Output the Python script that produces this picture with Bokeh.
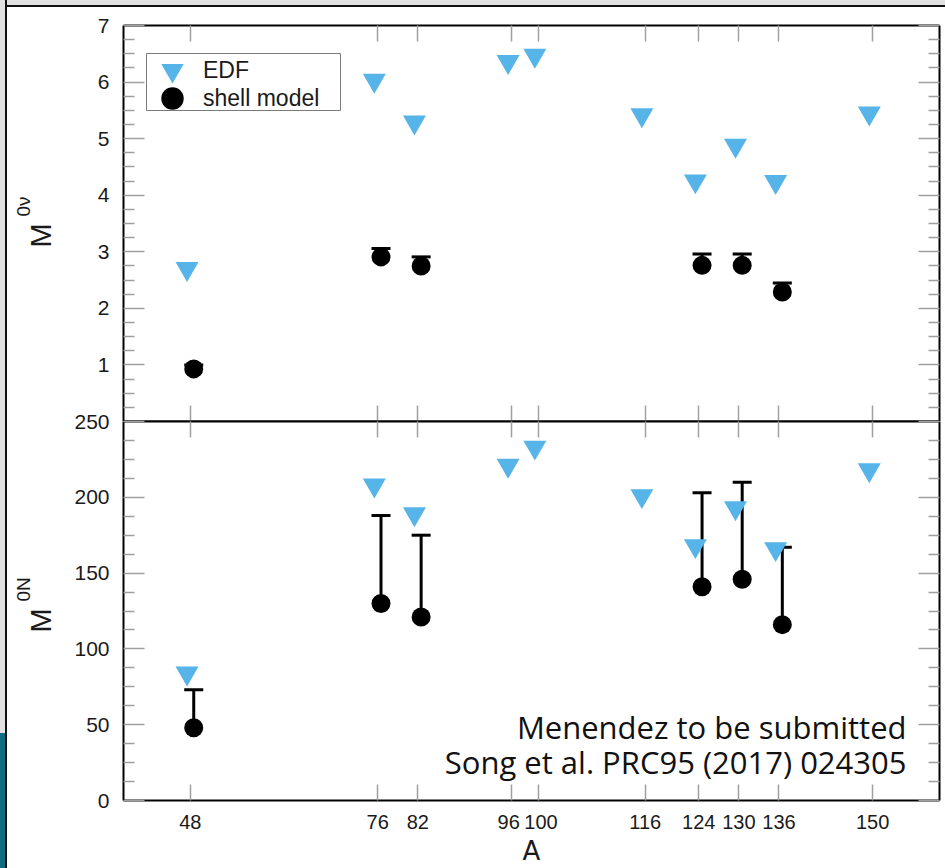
import math
from bokeh.plotting import figure
from bokeh.models import (LinearAxis, FixedTicker, ColumnDataSource, Whisker, TeeHead,
                          Legend, LegendItem, Label, BoxAnnotation, Range1d, Div)
from bokeh.layouts import column, row
from bokeh.transform import dodge
from bokeh.embed import file_html
from bokeh.resources import INLINE

# ---------------- data ----------------
A_edf = [48, 76, 82, 96, 100, 116, 124, 130, 136, 150]
edf_0nu = [2.70, 6.03, 5.29, 6.36, 6.47, 5.42, 4.25, 4.88, 4.24, 5.45]
edf_0N = [84, 208, 189, 221, 233, 201, 168, 193, 166, 218]

A_sm = [48, 76, 82, 124, 130, 136]
sm_0nu = [0.93, 2.91, 2.75, 2.76, 2.76, 2.29]
sm_0nu_up = [1.00, 3.06, 2.91, 2.96, 2.96, 2.45]
sm_0N = [48, 130, 121, 141, 146, 116]
sm_0N_up = [73, 188, 175, 203, 210, 167]

A_ticks = [48, 76, 82, 96, 100, 116, 124, 130, 136, 150]
A_tick_labels = {96: "96\u00a0", 100: "\u00a0100"}
A_range = (38, 160)
ticks_0nu = [1, 2, 3, 4, 5, 6, 7]
range_0nu = (0, 7)
ticks_0N = [0, 50, 100, 150, 200, 250]
range_0N = (0, 250)

legend_labels = ["EDF", "shell model"]
x_title = "A"
y_titles = [("M", "0ν"), ("M", "0N")]
cite_lines = ["Menendez to be submitted", "Song et al. PRC95 (2017) 024305"]

# ---------------- styles ----------------
BLUE = "#56B4E9"
GRAY = "#a0a0a0"
FONT = "Liberation Sans"
TXT = "#1a1a1a"

src_edf = ColumnDataSource(dict(A=A_edf, nu=edf_0nu, N=edf_0N))
src_sm = ColumnDataSource(dict(A=A_sm, nu=sm_0nu, nu_up=sm_0nu_up, N=sm_0N, N_up=sm_0N_up))


def make_fig(height, yr, top_border, bottom_border):
    p = figure(width=878, height=height, x_range=Range1d(*A_range), y_range=Range1d(*yr),
               x_axis_location=None, y_axis_location=None, toolbar_location=None,
               output_backend="svg", min_border_left=56, min_border_right=6,
               min_border_top=top_border, min_border_bottom=bottom_border)
    p.grid.visible = False
    p.outline_line_color = None
    p.border_fill_color = None
    p.background_fill_color = "white"
    return p


def add_axes(p, yticks, yminor, xlabels):
    left = LinearAxis(ticker=FixedTicker(ticks=yticks, minor_ticks=yminor))
    right = LinearAxis(ticker=FixedTicker(ticks=yticks, minor_ticks=yminor))
    top = LinearAxis(ticker=FixedTicker(ticks=A_ticks))
    bottom = LinearAxis(ticker=FixedTicker(ticks=A_ticks))
    for ax in (left, right, top, bottom):
        ax.axis_line_color = "black"
        ax.axis_line_width = 2
        ax.major_tick_line_color = GRAY
        ax.major_tick_line_width = 1.5
        ax.minor_tick_line_color = GRAY
        ax.minor_tick_line_width = 1.5
        ax.major_tick_out = 0
        ax.minor_tick_out = 0
        ax.major_label_text_color = None
    for ax in (left, right):
        ax.major_tick_in = 21
        ax.minor_tick_in = 11
    for ax in (top, bottom):
        ax.major_tick_in = 16
        ax.minor_tick_line_color = None
    left.major_label_text_color = TXT
    left.major_label_text_font = FONT
    left.major_label_text_font_size = "21px"
    left.major_label_standoff = 14
    if xlabels:
        bottom.major_label_text_color = TXT
        bottom.major_label_text_font = FONT
        bottom.major_label_text_font_size = "20px"
        bottom.major_label_standoff = 10
        bottom.major_label_overrides = A_tick_labels
        bottom.axis_label = x_title
        bottom.axis_label_text_font = "DejaVu Sans"
        bottom.axis_label_text_font_style = "normal"
        bottom.axis_label_text_font_size = "26px"
        bottom.axis_label_text_color = TXT
        bottom.axis_label_standoff = 0
    p.add_layout(left, "left")
    p.add_layout(right, "right")
    p.add_layout(top, "above")
    p.add_layout(bottom, "below")


# ---------------- top panel ----------------
p1 = make_fig(414, range_0nu, 18, 0)
minor_nu = [i * 0.25 for i in range(1, 28) if i % 4]
add_axes(p1, ticks_0nu, minor_nu, False)

w1 = Whisker(base=dodge("A", 0.5), lower="nu", upper="nu_up", source=src_sm,
             line_color="black", line_width=3, lower_head=None,
             upper_head=TeeHead(size=19, line_color="black", line_width=3))
p1.add_layout(w1)
r_edf1 = p1.scatter(x=dodge("A", -0.5), y="nu", source=src_edf, marker="inverted_triangle",
                    size=23, fill_color=BLUE, line_color=None)
r_sm1 = p1.scatter(x=dodge("A", 0.5), y="nu", source=src_sm, marker="circle",
                   size=19, fill_color="black", line_color=None)

box = BoxAnnotation(left=23, right=217, top=368, bottom=311,
                    left_units="screen", right_units="screen",
                    top_units="screen", bottom_units="screen",
                    fill_color="white", fill_alpha=1.0,
                    line_color="#7a7a7a", line_width=1, line_alpha=1.0)
p1.add_layout(box)


def one_legend(label, rend, loc):
    return Legend(items=[LegendItem(label=label, renderers=[rend])],
                  location=loc, padding=0, spacing=0,
                  glyph_height=56, glyph_width=58, label_height=56, label_standoff=2,
                  border_line_color=None, background_fill_alpha=0.0,
                  label_text_font=FONT, label_text_font_size="23px",
                  label_text_color=TXT)


p1.add_layout(one_legend(legend_labels[0], r_edf1, (20, 323)))
p1.add_layout(one_legend(legend_labels[1], r_sm1, (20, 295)))

# ---------------- bottom panel ----------------
p2 = make_fig(459, range_0N, 12, 68)
p2.margin = (-12, 0, 0, 0)
minor_N = [i * 12.5 for i in range(1, 20) if i % 4]
add_axes(p2, ticks_0N, minor_N, True)

w2 = Whisker(base=dodge("A", 0.5), lower="N", upper="N_up", source=src_sm,
             line_color="black", line_width=3, lower_head=None,
             upper_head=TeeHead(size=19, line_color="black", line_width=3))
p2.add_layout(w2)
p2.scatter(x=dodge("A", -0.5), y="N", source=src_edf, marker="inverted_triangle",
           size=23, fill_color=BLUE, line_color=None)
p2.scatter(x=dodge("A", 0.5), y="N", source=src_sm, marker="circle",
           size=19, fill_color="black", line_color=None)

for txt, yv in ((cite_lines[0], 48.8), (cite_lines[1], 25.7)):
    p2.add_layout(Label(x=783, y=yv, x_units="screen", y_units="data", text=txt,
                        text_align="right", text_baseline="middle",
                        text_font="Open Sans", text_font_size="31px", text_color="#111111"))

# ---------------- y-axis titles (separate narrow canvas) ----------------
pl = figure(width=60, height=861, x_range=Range1d(0, 1), y_range=Range1d(0, 1),
            x_axis_location=None, y_axis_location=None, toolbar_location=None,
            output_backend="svg", min_border=0)
pl.grid.visible = False
pl.outline_line_color = None
pl.border_fill_color = None
pl.background_fill_color = None
for (main, sup), (ym, ys) in zip(y_titles, ((621, 652), (236, 267))):
    pl.add_layout(Label(x=33, y=ym, x_units="screen", y_units="screen", text=main,
                        angle=math.pi / 2, text_align="left", text_baseline="middle",
                        text_font=FONT, text_font_size="29px", text_color=TXT))
    pl.add_layout(Label(x=16, y=ys, x_units="screen", y_units="screen", text=sup,
                        angle=math.pi / 2, text_align="left", text_baseline="middle",
                        text_font=FONT, text_font_size="19px", text_color=TXT))

# ---------------- slide frame ----------------
left_strip = Div(width=7, height=868, margin=0,
                 styles={"background": "linear-gradient(to bottom, #e2e2e2 0px, #e2e2e2 733px, #0f6b80 733px)",
                         "border-right": "2px solid #111111", "box-sizing": "border-box"})
top_strip = Div(width=938, height=7, margin=0,
                styles={"background": "#e2e2e2", "border-bottom": "2px solid #111111",
                        "box-sizing": "border-box"})
p1.margin = 0
pl.margin = 0

layout = row(left_strip,
             column(top_strip, row(pl, column(p1, p2, spacing=0), spacing=0), spacing=0),
             spacing=0)

open("out.html", "w").write(file_html(layout, INLINE))
